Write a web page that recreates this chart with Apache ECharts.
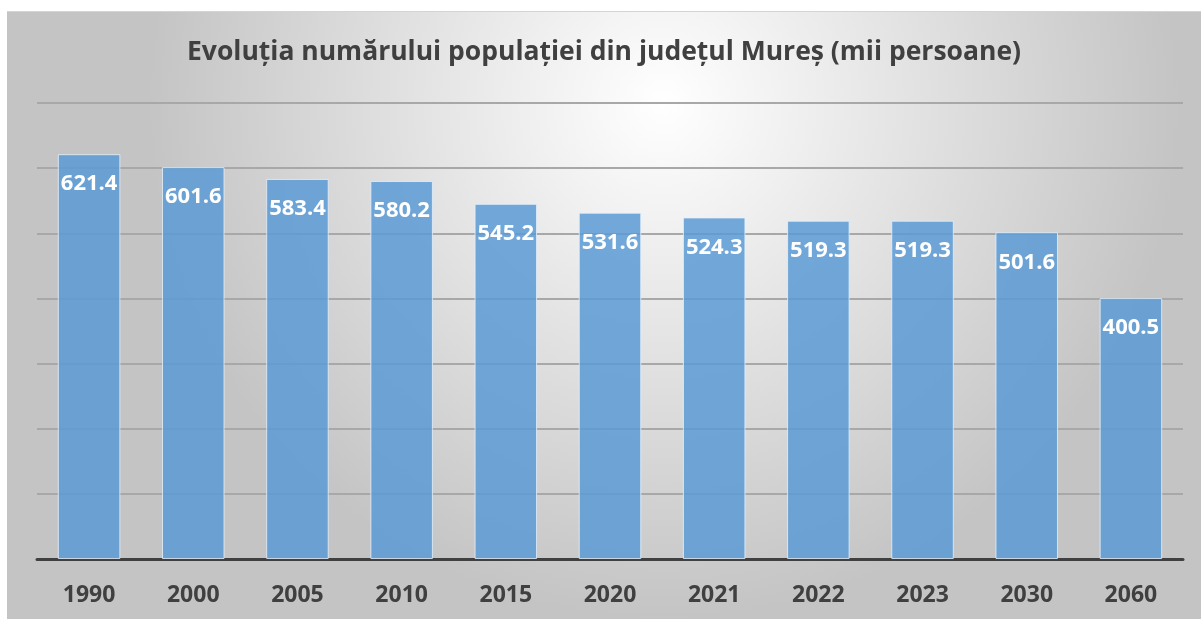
<!DOCTYPE html>
<html>
<head>
<meta charset="utf-8">
<style>
  html, body { margin: 0; padding: 0; background: #fff; }
  #chart { position: absolute; left: 7px; top: 11px; width: 1194px; height: 608px; border-top: 1px solid #d4d4d4; box-sizing: border-box; }
</style>
<script src="https://cdn.jsdelivr.net/npm/echarts@6/dist/echarts.min.js"></script>
</head>
<body>
<div id="chart"></div>
<script>
// date
const years = ['1990', '2000', '2005', '2010', '2015', '2020', '2021', '2022', '2023', '2030', '2060']
const population = [621.4, 601.6, 583.4, 580.2, 545.2, 531.6, 524.3, 519.3, 519.3, 501.6, 400.5]

const font = '"Open Sans", "Noto Sans", sans-serif'
const chart = echarts.init(document.getElementById('chart'), null, { renderer: 'canvas' })

chart.setOption({
  backgroundColor: {
    type: 'radial', x: 0.55, y: 0.15, r: 0.85,
    colorStops: [
      { offset: 0, color: '#ffffff' },
      { offset: 1, color: '#c4c4c4' },
    ],
  },
  title: {
    text: 'Evoluția numărului populației din județul Mureș (mii persoane)',
    left: 'center',
    top: 22,
    textStyle: { fontFamily: font, fontWeight: 'bold', fontSize: 26.5, color: '#404040' },
  },
  grid: { left: 30, right: 18, top: 91, bottom: 60 },
  xAxis: {
    type: 'category',
    data: years,
    axisTick: { show: false },
    axisLine: { lineStyle: { color: '#404040', width: 3 } },
    axisLabel: { fontFamily: font, fontWeight: 'bold', fontSize: 23, color: '#404040', margin: 25 },
  },
  yAxis: {
    type: 'value',
    min: 0, max: 700, interval: 100,
    axisLabel: { show: false },
    axisLine: { show: false },
    axisTick: { show: false },
    splitLine: { lineStyle: { color: '#a8a8a8', width: 2 } },
  },
  series: [{
    type: 'bar',
    data: population,
    barWidth: '60%',
    itemStyle: {
      color: 'rgba(91,155,213,0.85)',
      borderColor: 'rgba(230,240,250,0.8)',
      borderWidth: 1,
    },
    label: {
      show: true,
      position: 'insideTop',
      distance: 19,
      formatter: p => p.value.toFixed(1),
      fontFamily: font, fontWeight: 'bold', fontSize: 22, color: '#ffffff',
    },
  }],
})
</script>
</body>
</html>
